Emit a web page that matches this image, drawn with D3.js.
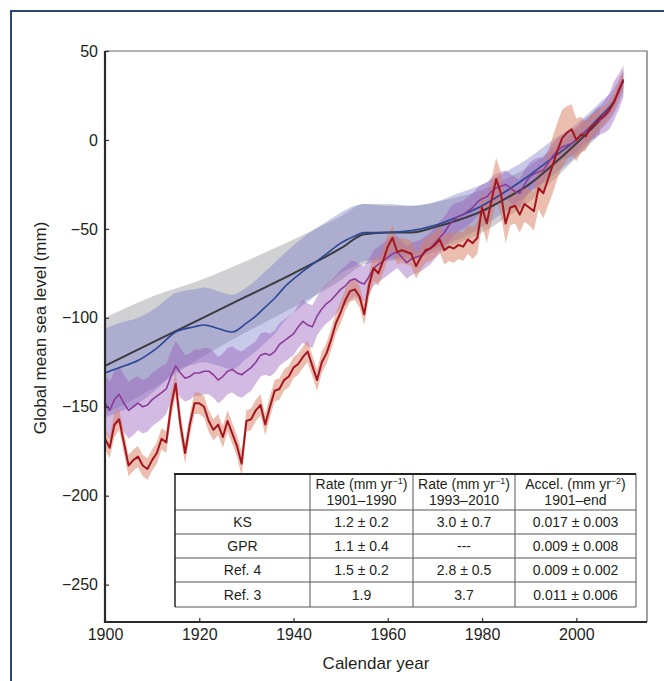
<!DOCTYPE html>
<html>
<head>
<meta charset="utf-8">
<script src="https://cdn.jsdelivr.net/npm/d3@7"></script>
<style>
  body { margin: 0; background: #fff; }
  svg { display: block; font-family: "Liberation Sans", Arial, sans-serif; }
</style>
</head>
<body>
<script>
// KS reconstruction, annual 1900-2010 (mm) and 1-sigma half width
const ksLevel = [
  -168, -173, -160, -157, -170, -183, -180, -178, -183, -185,
  -180, -176, -168, -170, -150, -137, -160, -176, -160, -148,
  -148, -150, -158, -163, -160, -167, -158, -165, -172, -182,
  -158, -157, -152, -149, -160, -150, -141, -140, -135, -133,
  -128, -126, -122, -119, -127, -135, -125, -120, -112, -103,
  -97, -90, -85, -84, -88, -98, -82, -72, -75, -68,
  -60, -55, -63, -62, -63, -64, -71, -66, -62, -61,
  -59, -56, -62, -60, -61, -59, -60, -56, -58, -55,
  -38, -47, -34, -22, -30, -47, -38, -37, -42, -36,
  -38, -40, -27, -30, -22, -14, -6, 1, 4, 6,
  0, 3, 2, 7, 9, 12, 14, 17, 21, 28, 34
];
const ksErr = [
  6, 6, 7, 6, 6, 6, 6, 6, 6, 6, 6, 6, 6, 6, 7,
  7, 7, 6, 6, 6, 6, 6, 6, 6, 6, 6, 6, 6, 6, 7,
  6, 6, 6, 6, 6, 6, 6, 6, 6, 6, 6, 6, 6, 6, 6,
  6, 6, 6, 6, 6, 6, 6, 6, 6, 6, 6, 7, 7, 7, 7,
  7, 7, 7, 7, 7, 7, 7, 7, 7, 7, 7, 7, 8, 8, 8,
  8, 8, 8, 9, 9, 10, 11, 12, 12, 12, 11, 10, 10, 10, 10,
  10, 11, 12, 14, 15, 16, 16, 16, 15, 14, 12, 10, 8, 7, 6,
  6, 5, 5, 5, 5, 5
];

// GPR reconstruction, annual 1900-2010
const gprLevel = [
  -148, -152, -146, -143, -148, -152, -150, -148, -150, -149,
  -146, -144, -142, -140, -133, -127, -131, -134, -133, -131,
  -131, -130, -130, -132, -135, -133, -130, -129, -131, -132,
  -130, -128, -125, -121, -120, -121, -119, -115, -113, -111,
  -109, -105, -102, -104, -105, -99, -95, -92, -90, -87,
  -84, -82, -79, -78, -80, -81, -77, -72, -70, -68,
  -66, -64, -63, -66, -69, -67, -66, -65, -63, -61,
  -58, -55, -52, -48, -45, -43, -42, -40, -38, -35,
  -33, -32, -29, -27, -26, -25, -27, -29, -30, -25,
  -21, -19, -18, -17, -13, -9, -6, -4, -3, -2,
  0, 3, 5, 7, 9, 11, 13, 16, 22, 27, 33
];
const gprErr = [
  16, 16, 16, 16, 16, 16, 16, 15, 15, 15, 15, 15, 15, 14, 14,
  14, 14, 13, 13, 13, 13, 13, 13, 13, 13, 13, 13, 13, 13, 13,
  13, 13, 12, 12, 12, 12, 12, 12, 12, 12, 12, 12, 12, 12, 12,
  11, 11, 11, 11, 11, 11, 11, 11, 10, 10, 10, 10, 10, 10, 10,
  10, 10, 9, 9, 9, 9, 9, 9, 9, 9, 9, 9, 9, 9, 9,
  8, 8, 8, 8, 8, 8, 8, 8, 8, 8, 8, 8, 8, 8, 8,
  8, 8, 8, 7, 7, 7, 7, 7, 7, 7, 7, 7, 7, 7, 8,
  8, 9, 10, 11, 10, 9
];

// Ref. 4 (blue), smooth curve
const ref4Years = [1900, 1903, 1907, 1911, 1915, 1919, 1921, 1924, 1927, 1930, 1932, 1934, 1936, 1938, 1941, 1944, 1947, 1950, 1953, 1955, 1960, 1965, 1970, 1975, 1980, 1985, 1990, 1995, 2000, 2005, 2008, 2010];
const ref4Level = [-131, -128, -124, -117, -108, -105, -104, -106, -108, -103, -99, -94, -89, -83, -76, -70, -64, -58, -54, -52, -52, -51, -48, -43, -37, -29, -20, -10, 0, 13, 22, 33];
const ref4Err = [25, 25, 24, 23, 22, 21, 21, 21, 21, 20, 20, 20, 20, 19, 19, 19, 18, 17, 17, 16, 15, 14, 13, 13, 12, 11, 10, 10, 9, 8, 7, 6];

// Ref. 3 (dark grey), smooth curve
const ref3Years = [1900, 1910, 1920, 1930, 1940, 1950, 1955, 1960, 1965, 1970, 1975, 1980, 1985, 1990, 1995, 2000, 2005];
const ref3Level = [-127, -114, -101, -88, -75, -61, -53, -52, -52, -49, -45, -40, -33, -25, -14, -2, 11];
const ref3Err = [27, 26, 22, 20, 19, 18, 17, 16, 15, 14, 13, 12, 11, 10, 9, 8, 8];

const yTicks = [-250, -200, -150, -100, -50, 0, 50];
const xTicks = [1900, 1920, 1940, 1960, 1980, 2000];

const tableRowNames = ["KS", "GPR", "Ref. 4", "Ref. 3"];
const rate1901 = ["1.2 ± 0.2", "1.1 ± 0.4", "1.5 ± 0.2", "1.9"];
const rate1993 = ["3.0 ± 0.7", "---", "2.8 ± 0.5", "3.7"];
const accel = ["0.017 ± 0.003", "0.009 ± 0.008", "0.009 ± 0.002", "0.011 ± 0.006"];
const tableHead = [
  { pre: "Rate (mm yr", sup: "−1", post: ")", sub: "1901–1990" },
  { pre: "Rate (mm yr", sup: "−1", post: ")", sub: "1993–2010" },
  { pre: "Accel. (mm yr", sup: "−2", post: ")", sub: "1901–end" }
];

const width = 664;
const height = 681;
const svg = d3.select("body").append("svg")
  .attr("width", width)
  .attr("height", height);

// outer frame
svg.append("path")
  .attr("d", `M11,${height} V11 H${width}`)
  .attr("fill", "none")
  .attr("stroke", "#2b4677")
  .attr("stroke-width", 2);

const x = d3.scaleLinear().domain([1900, 2015]).range([105, 647]);
const y = d3.scaleLinear().domain([-271, 50]).range([622, 51]);

const annual = d3.range(1900, 2011);
const ks = annual.map((yr, i) => ({ year: yr, v: ksLevel[i], e: ksErr[i] }));
const gpr = annual.map((yr, i) => ({ year: yr, v: gprLevel[i], e: gprErr[i] }));
const ref4 = ref4Years.map((yr, i) => ({ year: yr, v: ref4Level[i], e: ref4Err[i] }));
const ref3 = ref3Years.map((yr, i) => ({ year: yr, v: ref3Level[i], e: ref3Err[i] }));

function band(curve) {
  return d3.area()
    .x((d) => x(d.year))
    .y0((d) => y(d.v - d.e))
    .y1((d) => y(d.v + d.e))
    .curve(curve);
}
function line(curve) {
  return d3.line()
    .x((d) => x(d.year))
    .y((d) => y(d.v))
    .curve(curve);
}

const series = [
  { data: ref3, band: "rgba(140,140,145,0.40)", line: "#3b3b3f", curve: d3.curveMonotoneX, w: 2 },
  { data: ref4, band: "rgba(112,116,200,0.38)", line: "#2c4797", curve: d3.curveMonotoneX, w: 1.6 },
  { data: gpr, band: "rgba(150,90,185,0.42)", line: "#8a3c9a", curve: d3.curveLinear, w: 1.6 },
  { data: ks, band: "rgba(215,125,95,0.50)", line: "#a3161f", curve: d3.curveLinear, w: 2 }
];

const plot = svg.append("g");
plot.selectAll("path.band")
  .data(series)
  .enter().append("path")
  .attr("class", "band")
  .attr("d", (s) => band(s.curve)(s.data))
  .attr("fill", (s) => s.band);

plot.selectAll("path.line")
  .data(series)
  .enter().append("path")
  .attr("class", "line")
  .attr("d", (s) => line(s.curve)(s.data))
  .attr("fill", "none")
  .attr("stroke", (s) => s.line)
  .attr("stroke-width", (s) => s.w)
  .attr("stroke-linejoin", "round");

// plot border: thin top/right, heavy left/bottom
svg.append("path")
  .attr("d", `M105,51 H647 V622`)
  .attr("fill", "none")
  .attr("stroke", "#666")
  .attr("stroke-width", 1.2);

const yAxis = svg.append("g")
  .attr("transform", "translate(105,0)")
  .call(d3.axisLeft(y).tickValues(yTicks).tickSizeInner(-4).tickSizeOuter(0).tickPadding(7));
const xAxis = svg.append("g")
  .attr("transform", "translate(0,622)")
  .call(d3.axisBottom(x).tickValues(xTicks).tickFormat(d3.format("d")).tickSizeInner(-4).tickSizeOuter(0).tickPadding(7));

[yAxis, xAxis].forEach((g) => {
  g.select(".domain").remove();
  g.selectAll(".tick line").attr("stroke", "#333").attr("stroke-width", 1.2);
  g.selectAll(".tick text").attr("fill", "#231f20").style("font-size", "16px");
});

svg.append("path")
  .attr("d", `M105,51 V622 H647`)
  .attr("fill", "none")
  .attr("stroke", "#2a2a2a")
  .attr("stroke-width", 2.2);

svg.append("text")
  .attr("transform", "translate(46,328) rotate(-90)")
  .attr("text-anchor", "middle")
  .style("font-size", "17px")
  .style("fill", "#231f20")
  .text("Global mean sea level (mm)");

svg.append("text")
  .attr("x", 376)
  .attr("y", 669)
  .attr("text-anchor", "middle")
  .style("font-size", "17px")
  .style("fill", "#231f20")
  .text("Calendar year");

// rates table
const colEdges = [175, 310, 413, 515, 636];
const rowEdges = [474, 510, 534, 558, 582, 607];
const table = svg.append("g").style("font-size", "14px").style("fill", "#231f20");

table.append("rect")
  .attr("x", colEdges[0])
  .attr("y", rowEdges[0])
  .attr("width", colEdges[4] - colEdges[0])
  .attr("height", rowEdges[5] - rowEdges[0])
  .attr("fill", "#fff");

table.selectAll("line.h")
  .data(rowEdges.slice(1))
  .enter().append("line")
  .attr("x1", colEdges[0]).attr("x2", colEdges[4])
  .attr("y1", (d) => d).attr("y2", (d) => d)
  .attr("stroke", "#555").attr("stroke-width", 1);

table.selectAll("line.v")
  .data(colEdges)
  .enter().append("line")
  .attr("x1", (d) => d).attr("x2", (d) => d)
  .attr("y1", rowEdges[0]).attr("y2", rowEdges[5])
  .attr("stroke", (d, i) => i === 0 ? "#222" : "#555")
  .attr("stroke-width", (d, i) => i === 0 ? 1.5 : 1);

table.append("line")
  .attr("x1", colEdges[0] - 1).attr("x2", colEdges[4])
  .attr("y1", rowEdges[0]).attr("y2", rowEdges[0])
  .attr("stroke", "#222").attr("stroke-width", 2.2);

const mid = (a, i) => (a[i] + a[i + 1]) / 2;

tableHead.forEach((h, i) => {
  const cx = mid(colEdges, i + 1);
  const t = table.append("text").attr("x", cx).attr("y", rowEdges[0] + 15).attr("text-anchor", "middle");
  t.append("tspan").text(h.pre);
  t.append("tspan").attr("dy", -5).style("font-size", "9px").text(h.sup);
  t.append("tspan").attr("dy", 5).text(h.post);
  table.append("text").attr("x", cx).attr("y", rowEdges[0] + 31).attr("text-anchor", "middle").text(h.sub);
});

const columns = [tableRowNames, rate1901, rate1993, accel];
columns.forEach((col, c) => {
  table.selectAll(null)
    .data(col)
    .enter().append("text")
    .attr("x", mid(colEdges, c))
    .attr("y", (d, r) => mid(rowEdges, r + 1) + 5)
    .attr("text-anchor", "middle")
    .text((d) => d);
});
</script>
</body>
</html>
